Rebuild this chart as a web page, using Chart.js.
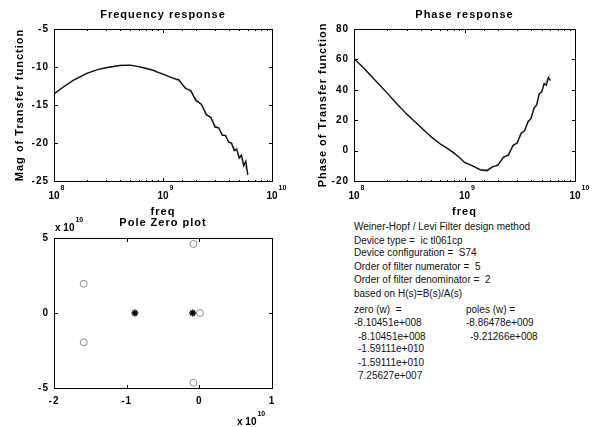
<!DOCTYPE html>
<html>
<head>
<meta charset="utf-8">
<script src="https://cdn.jsdelivr.net/npm/chart.js@4.4.0/dist/chart.umd.min.js"></script>
<style>
	body { margin: 0; background: #fff; font-family: "Liberation Sans", Arial, sans-serif; }
	#page { position: relative; width: 592px; height: 427px; overflow: hidden; background: #fff; }
	canvas { position: absolute; }
	.txt { position: absolute; font-size: 10px; line-height: 12px; color: #111; white-space: pre; }
	.bar { position: absolute; background: #000; }
</style>
</head>
<body>
<div id="page">
	<canvas id="mag-graph" width="290" height="220" style="left:0;top:0"></canvas>
	<canvas id="phase-graph" width="302" height="220" style="left:290px;top:0"></canvas>
	<canvas id="pz-graph" width="290" height="213" style="left:0;top:214px"></canvas>
	<div id="info"></div>
</div>
<script>
	// Sample frequencies (Hz)
	var freqHz = [1e8, 1.2e8, 1.5e8, 2e8, 2.5e8, 3e8, 4e8, 5e8, 6e8, 7e8, 8e8, 9e8,
		1e9, 1.2e9, 1.4e9, 1.6e9, 1.8e9, 2e9, 2.25e9, 2.5e9, 2.75e9, 3e9, 3.25e9, 3.5e9,
		3.75e9, 4e9, 4.25e9, 4.5e9, 4.75e9, 5e9, 5.25e9, 5.5e9, 5.75e9, 6e9];

	var magMeasured = [-13.55, -12.7, -11.75, -10.85, -10.35, -10.1, -9.8, -9.75, -9.95, -10.2, -10.4, -10.7,
		-10.95, -11.4, -11.7, -12.8, -13.1, -14.4, -14.9, -16.3, -16.6, -17.9, -18.0, -19.0,
		-19.0, -19.9, -20.0, -21.0, -20.8, -22.0, -21.6, -23.0, -22.4, -24.2];
	var magFit = [-13.55, -12.7, -11.75, -10.85, -10.37, -10.1, -9.78, -9.78, -9.98, -10.15, -10.4, -10.7,
		-10.95, -11.42, -11.9, -12.6, -13.3, -14.15, -15.1, -16.05, -16.85, -17.6, -18.2, -18.75,
		-19.2, -19.7, -20.2, -20.7, -21.1, -21.6, -22.1, -22.6, -23.2, -24.0];

	var phaseMeasured = [60.5, 55, 47.5, 37.8, 30, 24, 15.5, 9, 4.5, 1.5, -1.5, -4.5,
		-7.8, -10.2, -12.8, -13.2, -10.5, -9.8, -4.2, -3, 3.5, 5, 11.5, 13,
		19, 21, 28, 30, 37.5, 38.5, 44, 43, 48, 46];
	var phaseFit = [60.5, 55, 47.5, 37.8, 30, 24, 15.5, 9, 4.5, 1.5, -1.5, -4.5,
		-7.5, -10.5, -12.3, -12.5, -11.2, -8.8, -5.5, -1.5, 2.3, 6, 10, 14,
		18, 22, 26.5, 31, 36.5, 40, 43, 46, 48.5, 50.5];

	// Filter result (rad/s); imaginary parts
	var zeroReal = [-8.10451e8, -8.10451e8, -1.59111e10, -1.59111e10, 7.25627e7];
	var zeroImag = [4.6e10, -4.65e10, 1.95e10, -1.95e10, 0];
	var poleReal = [-8.86478e9, -9.21266e8];
	var poleImag = [0, 0];

	var infoLines = [
		'Weiner-Hopf / Levi Filter design method',
		'Device type =  ic tl061cp',
		'Device configuration =  S74',
		'Order of filter numerator =  5',
		'Order of filter denominator =  2',
		'based on H(s)=B(s)/A(s)'
	];

	/* ---------------- TEXT BLOCK ---------------- */

	var matlabExp = function(v) {
		var s = v.toExponential(5).split('e');
		var e = parseInt(s[1], 10);
		var digits = ('000' + Math.abs(e)).slice(-3);
		return s[0] + 'e' + (e < 0 ? '-' : '+') + digits;
	};

	var page = document.getElementById('page');
	var info = document.getElementById('info');
	var addText = function(text, left, top) {
		var d = document.createElement('div');
		d.className = 'txt';
		d.style.left = left + 'px';
		d.style.top = top + 'px';
		d.textContent = text;
		info.appendChild(d);
	};

	var infoTops = [220.7, 235, 247.3, 260.7, 274, 288.3];
	for (var i = 0; i < infoLines.length; i++) {
		addText(infoLines[i], 354, infoTops[i]);
	}
	addText('zero (w)  =', 354, 304);
	addText('poles (w) =', 466, 304);
	var listTops = [317.3, 330.7, 343, 356.7, 369.7];
	for (var i = 0; i < zeroReal.length; i++) {
		addText(matlabExp(zeroReal[i]), i == 0 ? 354 : 358, listTops[i]);
	}
	for (var i = 0; i < poleReal.length; i++) {
		addText(matlabExp(poleReal[i]), i == 0 ? 466 : 470, listTops[i]);
	}

	/* ---------------- CHART HELPERS ---------------- */

	var FAMILY = '"Liberation Sans", Arial, sans-serif';

	var boldFont = function(size) {
		return { family: FAMILY, size: size, weight: 'bold', lineHeight: 1.2 };
	};

	var isDecade = function(v) {
		var l = Math.log10(v);
		return Math.abs(l - Math.round(l)) < 1e-6;
	};

	var noGrid = { display: false, drawTicks: false };
	var frameBorder = { display: true, color: '#000', width: 1 };

	// Axes that only close the box on top and right
	var mirrorAxis = function(position, base) {
		var axis = {
			position: position,
			grid: noGrid,
			border: frameBorder,
			ticks: { display: false }
		};
		for (var k in base) axis[k] = base[k];
		if (position == 'top') {
			axis.afterFit = function(s) { s.height = 0; };
		} else {
			axis.afterFit = function(s) { s.width = 0; };
		}
		return axis;
	};

	// Box and inward ticks laid over the canvas, placed with the chart's own scales
	var addBar = function(x, y, w, h) {
		var d = document.createElement('div');
		d.className = 'bar';
		d.style.left = x + 'px';
		d.style.top = y + 'px';
		d.style.width = w + 'px';
		d.style.height = h + 'px';
		page.appendChild(d);
	};

	var drawFrame = function(chart) {
		var ox = chart.canvas.offsetLeft;
		var oy = chart.canvas.offsetTop;
		var a = chart.chartArea;
		var xs = chart.scales.x;
		var ys = chart.scales.y;
		var logX = xs.type == 'logarithmic';
		var L = Math.round(a.left) + ox, R = Math.round(a.right) + ox;
		var T = Math.round(a.top) + oy, B = Math.round(a.bottom) + oy;

		addBar(L, T, R - L + 1, 1);
		addBar(L, B, R - L + 1, 1);
		addBar(L, T, 1, B - T + 1);
		addBar(R, T, 1, B - T + 1);

		for (var i = 0; i < xs.ticks.length; i++) {
			var v = xs.ticks[i].value;
			var px = Math.round(xs.getPixelForValue(v)) + ox;
			var len = (!logX || isDecade(v)) ? 4 : 2;
			addBar(px, B - len + 1, 1, len);
			addBar(px, T, 1, len);
		}
		for (var i = 0; i < ys.ticks.length; i++) {
			var py = Math.round(ys.getPixelForValue(ys.ticks[i].value)) + oy;
			addBar(L, py, 4, 1);
			addBar(R - 3, py, 4, 1);
		}
	};

	// Draws "10" with a raised exponent, or "x 10" + exponent
	var drawPower = function(ctx, base, exp, x, y, centerBase) {
		ctx.font = 'bold 10px ' + FAMILY;
		var wb = ctx.measureText(base).width;
		var x0 = centerBase ? x - wb / 2 : x;
		ctx.textAlign = 'left';
		ctx.textBaseline = 'alphabetic';
		ctx.fillText(base, x0, y);
		ctx.font = 'bold 7px ' + FAMILY;
		ctx.fillText(exp, x0 + wb + 1, y - 9);
	};

	var labelPlugin = {
		id: 'powerLabels',
		beforeDraw: function(chart) {
			chart.ctx.letterSpacing = '1px';
		},
		afterDraw: function(chart) {
			var ctx = chart.ctx;
			var a = chart.chartArea;
			var xs = chart.scales.x;

			ctx.save();
			ctx.fillStyle = '#000';
			ctx.letterSpacing = '0px';
			if (xs.type == 'logarithmic') {
				for (var i = 0; i < xs.ticks.length; i++) {
					var t = xs.ticks[i];
					if (!isDecade(t.value)) continue;
					var px = xs.getPixelForValue(t.value);
					drawPower(ctx, '10', String(Math.round(Math.log10(t.value))), px, a.bottom + 17.5, true);
				}
			}
			if (chart.canvas.id == 'pz-graph') {
				drawPower(ctx, 'x 10', '10', a.left + 1, a.top - 7, false);
				drawPower(ctx, 'x 10', '10', a.right - 35, a.bottom + 37, false);
			}
			ctx.restore();
		}
	};

	var xyPoints = function(xs, ys) {
		var pts = [];
		for (var i = 0; i < xs.length; i++) {
			pts.push({ x: xs[i], y: ys[i] });
		}
		return pts;
	};

	var responseChart = function(id, title, yTitle, measured, fit, yMin, yMax, yStep, yWidth, yTitlePad, rightPad) {
		var canvas = document.getElementById(id);
		var logRange = { type: 'logarithmic', min: 1e8, max: 1e10 };
		return new Chart(canvas.getContext('2d'), {
			type: 'line',
			data: {
				datasets: [
					{ data: xyPoints(freqHz, measured), borderColor: '#111', borderWidth: 1.4, pointRadius: 0, tension: 0, xAxisID: 'x', yAxisID: 'y' },
					{ data: xyPoints(freqHz, fit), borderColor: '#8a8a8a', borderWidth: 0.8, pointRadius: 0, tension: 0, xAxisID: 'x', yAxisID: 'y' }
				]
			},
			options: {
				responsive: false,
				animation: false,
				devicePixelRatio: 1,
				layout: { padding: { left: 0, right: rightPad, top: 0, bottom: 0 } },
				plugins: {
					legend: { display: false },
					tooltip: { enabled: false },
					title: { display: true, fullSize: false, text: title, color: '#000', font: boldFont(11), padding: { top: 8, bottom: 7.8 } }
				},
				scales: {
					x: {
						type: 'logarithmic', min: 1e8, max: 1e10,
						grid: noGrid,
						border: frameBorder,
						ticks: { display: false },
						title: { display: true, text: 'freq', color: '#000', font: boldFont(11), padding: { top: 0, bottom: 1 } },
						afterFit: function(s) { s.height = 39; }
					},
					x2: mirrorAxis('top', logRange),
					y: {
						min: yMin, max: yMax,
						grid: noGrid,
						border: frameBorder,
						ticks: { stepSize: yStep, color: '#000', font: boldFont(10), padding: 5 },
						title: { display: true, text: yTitle, color: '#000', font: boldFont(11), padding: { top: yTitlePad, bottom: 0 } },
						afterFit: function(s) { s.width = yWidth; }
					},
					y2: mirrorAxis('right', { min: yMin, max: yMax, ticks: { display: false, stepSize: yStep } })
				}
			},
			plugins: [labelPlugin]
		});
	};

	/* ---------------- CHARTS ---------------- */

	var magChart = responseChart('mag-graph', 'Frequency response', 'Mag of Transfer function',
		magMeasured, magFit, -25, -5, 5, 54, 13, 18);
	var phaseChart = responseChart('phase-graph', 'Phase response', 'Phase of Transfer function',
		phaseMeasured, phaseFit, -20, 80, 20, 64, 26.5, 17);

	var pzCanvas = document.getElementById('pz-graph');
	var pzChart = new Chart(pzCanvas.getContext('2d'), {
		type: 'scatter',
		data: {
			datasets: [
				{ data: xyPoints(zeroReal, zeroImag), pointStyle: 'circle', pointRadius: 3.5,
					borderColor: '#8c8c8c', backgroundColor: 'rgba(0,0,0,0)', borderWidth: 1, xAxisID: 'x', yAxisID: 'y' },
				{ data: xyPoints(poleReal, poleImag), pointStyle: 'star', pointRadius: 3.5,
					borderColor: '#000', backgroundColor: '#000', borderWidth: 1.5, xAxisID: 'x', yAxisID: 'y' }
			]
		},
		options: {
			responsive: false,
			animation: false,
			devicePixelRatio: 1,
			layout: { padding: { left: 0, right: 18, top: 0, bottom: 0 } },
			plugins: {
				legend: { display: false },
				tooltip: { enabled: false },
				title: { display: true, fullSize: false, text: 'Pole Zero plot', color: '#000', font: boldFont(11), padding: { top: 2, bottom: 8.8 } }
			},
			scales: {
				x: {
					min: -2e10, max: 1e10,
					grid: noGrid,
					border: frameBorder,
					ticks: { stepSize: 1e10, color: '#000', font: boldFont(10), padding: 7,
						callback: function(v) { return Math.round(v / 1e10); } },
					afterFit: function(s) { s.height = 39; }
				},
				x2: mirrorAxis('top', { type: 'linear', min: -2e10, max: 1e10, ticks: { display: false, stepSize: 1e10 } }),
				y: {
					min: -5e10, max: 5e10,
					grid: noGrid,
					border: frameBorder,
					ticks: { stepSize: 5e10, color: '#000', font: boldFont(10), padding: 5,
						callback: function(v) { return Math.round(v / 1e10); } },
					afterFit: function(s) { s.width = 54; }
				},
				y2: mirrorAxis('right', { min: -5e10, max: 5e10, ticks: { display: false, stepSize: 5e10 } })
			}
		},
		plugins: [labelPlugin]
	});

	drawFrame(magChart);
	drawFrame(phaseChart);
	drawFrame(pzChart);
</script>
</body>
</html>
